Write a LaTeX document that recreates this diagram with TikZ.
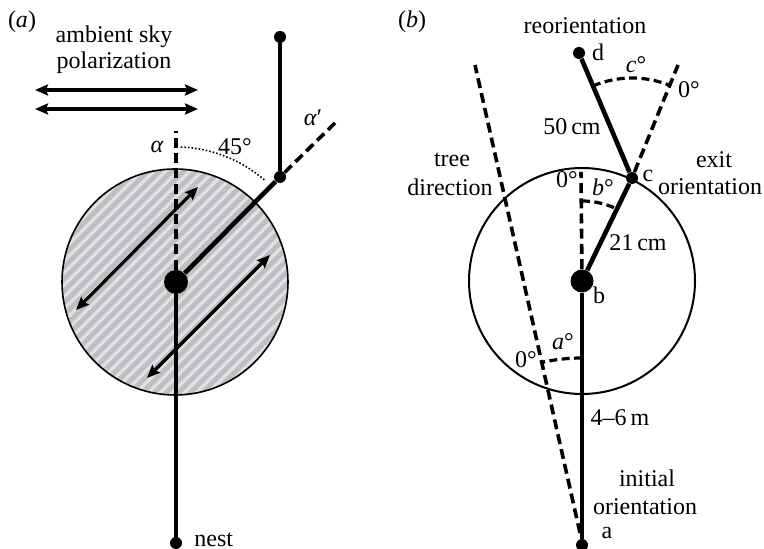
\documentclass[tikz,border=0pt]{standalone}
\usepackage{fontspec}
\setmainfont{Liberation Serif}
\usetikzlibrary{arrows.meta}
\definecolor{hatchbase}{RGB}{190,191,194}
\definecolor{hatchlight}{RGB}{224,224,226}
\begin{document}
\begin{tikzpicture}[x=0.5pt,y=0.5pt,
  lbl/.style={font=\fontsize{12}{14}\selectfont, inner sep=0pt},
  mainline/.style={line width=2.3pt},
  dsh/.style={line width=1.8pt, dash pattern=on 5pt off 2.6pt},
  arcdsh/.style={line width=1.6pt, dash pattern=on 4pt off 2.2pt},
  bigdot/.style={circle, fill=black, inner sep=0pt, minimum size=12pt},
  smalldot/.style={circle, fill=black, inner sep=0pt, minimum size=6pt},
  dblarrow/.style={line width=1.6pt, {Stealth[length=6.5pt,width=5.5pt,inset=1pt]}-{Stealth[length=6.5pt,width=5.5pt,inset=1pt]}}]
\useasboundingbox (0,0) rectangle (764,549);

% ---------------- panel (a) ----------------
\begin{scope}
  \clip (175,267) circle[radius=113];
  \fill[hatchbase] (175,267) circle[radius=113];
  \foreach \k in {-276,-264,...,276}
    \draw[hatchlight, line width=1.6pt] (175+\k-130,267-130) -- (175+\k+130,267+130);
\end{scope}
\draw[line width=0.8pt] (175,267) circle[radius=113];

\node[lbl] (labA) at (22,527) {(\textit{a})};
\node[lbl] (amb1) at (114,512) {ambient sky};
\node[lbl] (amb2) at (114,486) {polarization};
\coordinate (p1l) at (35,459); \coordinate (p1r) at (198,459);
\coordinate (p2l) at (35,440); \coordinate (p2r) at (198,440);
\draw[dblarrow] (p1l) -- (p1r);
\draw[dblarrow] (p2l) -- (p2r);

\coordinate (ar1a) at (76,239); \coordinate (ar1b) at (198,362);
\coordinate (ar2a) at (147,171); \coordinate (ar2b) at (270,294);
\draw[dblarrow] (ar1a) -- (ar1b);
\draw[dblarrow] (ar2a) -- (ar2b);

\node[bigdot] (C) at (176,267) {};
\node[smalldot] (N) at (176,6) {};
\node[smalldot] (E) at (280,372) {};
\node[smalldot] (T) at (280,512) {};
\coordinate (alphaTop) at (176,418);
\coordinate (alphaP) at (338,429);

\draw[dsh] (C) -- (alphaTop);
\draw[mainline] (C) -- (N);
\draw[mainline] (C) -- (E);
\draw[mainline] (E) -- (T);
\draw[dsh] (E) -- (alphaP);
\draw[densely dotted, line width=0.8pt] ([shift={(88:135)}]C.center) arc[start angle=88, end angle=49, radius=135];

\node[lbl] (alpha) at (157,402) {\textit{α}};
\node[lbl] (ang45) at (235,402) {45°};
\node[lbl] (alphap) at (313,431) {\textit{α}′};
\node[lbl, anchor=west] (nest) at (194,9) {nest};

% ---------------- panel (b) ----------------
\draw[line width=1pt] (582,268) circle[radius=113];

\node[lbl] (labB) at (412,527) {(\textit{b})};
\node[bigdot, minimum size=11.5pt] (b) at (582,268) {};
\node[smalldot] (a) at (582,4) {};
\node[smalldot] (c) at (632,371) {};
\node[smalldot] (d) at (579,496) {};
\coordinate (bTop) at (581,377);
\coordinate (exitTop) at (678,484);
\coordinate (treeTop) at (475,484);
\coordinate (treeBot) at (580,16);

\draw[dsh] (b) -- (bTop);
\draw[dsh] (c) -- (exitTop);
\draw[dsh] (treeBot) -- (treeTop);
\draw[mainline] (a) -- (b);
\draw[mainline] (b) -- (c);
\draw[mainline] (c) -- (d);

\draw[arcdsh] ([shift={(90:80)}]b.center) arc[start angle=90, end angle=63.5, radius=80];
\draw[arcdsh] ([shift={(113:100)}]c.center) arc[start angle=113, end angle=67.8, radius=100];
\draw[arcdsh] ([shift={(90:187)}]a.center) arc[start angle=90, end angle=102.6, radius=187];

\node[lbl] (reor) at (585,523) {reorientation};
\node[lbl] (dl) at (598,497) {d};
\node[lbl] (cdeg) at (636,484) {\textit{c}°};
\node[lbl] (zc) at (689,459) {0°};
\node[lbl] (cm50) at (572,422) {50\,cm};
\node[lbl] (tree1) at (452,389) {tree};
\node[lbl] (tree2) at (450,362) {direction};
\node[lbl] (exit1) at (714,389) {exit};
\node[lbl] (exit2) at (710,362) {orientation};
\node[lbl] (cl) at (648,373) {c};
\node[lbl] (zb) at (567,369) {0°};
\node[lbl] (bdeg) at (603,362) {\textit{b}°};
\node[lbl] (cm21) at (638,306) {21\,cm};
\node[lbl] (bl) at (599,254) {b};
\node[lbl] (adeg) at (563,207) {\textit{a}°};
\node[lbl] (za) at (526,189) {0°};
\node[lbl] (m46) at (620,131) {4--6\,m};
\node[lbl] (init1) at (647,71) {initial};
\node[lbl] (init2) at (645,42) {orientation};
\node[lbl] (al) at (607,16) {a};
\end{tikzpicture}
\end{document}
